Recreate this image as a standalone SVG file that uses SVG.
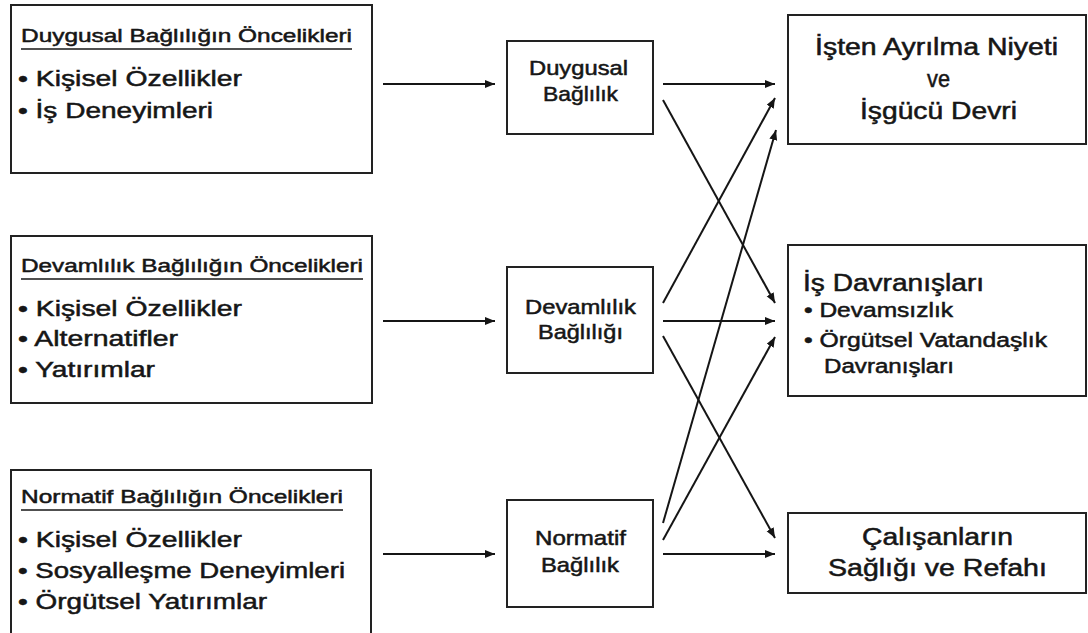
<svg xmlns="http://www.w3.org/2000/svg" width="1088" height="633" viewBox="0 0 1088 633">
  <style>
    .box { fill: #ffffff; stroke: #222222; stroke-width: 2; }
    .t { font-family: "Liberation Sans", Arial, sans-serif; fill: #161616; stroke: #161616; stroke-width: 0.5; }
    .head { font-size: 18.5px; }
    .item { font-size: 22px; }
    .mid { font-size: 20px; }
    .out { font-size: 23px; }
    .sub { font-size: 20px; }
    .ul { stroke: #161616; stroke-width: 1.5; }
    .conn line { stroke: #151515; stroke-width: 2; marker-end: url(#arrow); }
  </style>
  <defs>
    <marker id="arrow" markerUnits="userSpaceOnUse" markerWidth="11" markerHeight="9" refX="10" refY="4" orient="auto">
      <path d="M0,0 L10,4 L0,8 Z" fill="#151515"/>
    </marker>
  </defs>
  <rect width="1088" height="633" fill="#ffffff"/>

  <!-- antecedent boxes (wide type: each line scaled horizontally) -->
  <g id="antecedents-affective">
    <rect class="box" x="11" y="5" width="361" height="168"/>
    <text class="t head" transform="translate(21,42) scale(1.33,1)" textLength="248.9" lengthAdjust="spacingAndGlyphs">Duygusal Bağlılığın Öncelikleri</text>
    <line class="ul" x1="21" y1="49" x2="352" y2="49"/>
    <text class="t item" transform="translate(18,86) scale(1.29,1)" textLength="173.6" lengthAdjust="spacingAndGlyphs">• Kişisel Özellikler</text>
    <text class="t item" transform="translate(18,118) scale(1.29,1)" textLength="151.2" lengthAdjust="spacingAndGlyphs">• İş Deneyimleri</text>
  </g>

  <g id="antecedents-continuance">
    <rect class="box" x="11" y="236" width="361" height="167"/>
    <text class="t head" transform="translate(21,272) scale(1.33,1)" textLength="257.1" lengthAdjust="spacingAndGlyphs">Devamlılık Bağlılığın Öncelikleri</text>
    <line class="ul" x1="21" y1="279" x2="363" y2="279"/>
    <text class="t item" transform="translate(18,316) scale(1.29,1)" textLength="173.6" lengthAdjust="spacingAndGlyphs">• Kişisel Özellikler</text>
    <text class="t item" transform="translate(18,346) scale(1.29,1)" textLength="124" lengthAdjust="spacingAndGlyphs">• Alternatifler</text>
    <text class="t item" transform="translate(18,377) scale(1.29,1)" textLength="106.2" lengthAdjust="spacingAndGlyphs">• Yatırımlar</text>
  </g>

  <g id="antecedents-normative">
    <rect class="box" x="11" y="470" width="360" height="175"/>
    <text class="t head" transform="translate(21,503) scale(1.33,1)" textLength="242.1" lengthAdjust="spacingAndGlyphs">Normatif Bağlılığın Öncelikleri</text>
    <line class="ul" x1="21" y1="510" x2="343" y2="510"/>
    <text class="t item" transform="translate(18,547) scale(1.29,1)" textLength="173.6" lengthAdjust="spacingAndGlyphs">• Kişisel Özellikler</text>
    <text class="t item" transform="translate(18,578) scale(1.29,1)" textLength="253.5" lengthAdjust="spacingAndGlyphs">• Sosyalleşme Deneyimleri</text>
    <text class="t item" transform="translate(18,609) scale(1.29,1)" textLength="193" lengthAdjust="spacingAndGlyphs">• Örgütsel Yatırımlar</text>
  </g>

  <!-- commitment boxes -->
  <g id="affective">
    <rect class="box" x="507" y="41" width="146" height="93"/>
    <text class="t mid" transform="translate(529,75) scale(1.2,1)" textLength="82.5" lengthAdjust="spacingAndGlyphs">Duygusal</text>
    <text class="t mid" transform="translate(543,101) scale(1.2,1)" textLength="62.5" lengthAdjust="spacingAndGlyphs">Bağlılık</text>
  </g>

  <g id="continuance">
    <rect class="box" x="507" y="267" width="146" height="106"/>
    <text class="t mid" transform="translate(525,314) scale(1.2,1)" textLength="92.5" lengthAdjust="spacingAndGlyphs">Devamlılık</text>
    <text class="t mid" transform="translate(538,339) scale(1.2,1)" textLength="70.8" lengthAdjust="spacingAndGlyphs">Bağlılığı</text>
  </g>

  <g id="normative">
    <rect class="box" x="507" y="500" width="146" height="107"/>
    <text class="t mid" transform="translate(535,545) scale(1.2,1)" textLength="75.8" lengthAdjust="spacingAndGlyphs">Normatif</text>
    <text class="t mid" transform="translate(541,572) scale(1.2,1)" textLength="65" lengthAdjust="spacingAndGlyphs">Bağlılık</text>
  </g>

  <!-- outcome boxes -->
  <g id="turnover">
    <rect class="box" x="788" y="15" width="298" height="129"/>
    <text class="t out" transform="translate(815,55) scale(1.23,1)" textLength="197.6" lengthAdjust="spacingAndGlyphs">İşten Ayrılma Niyeti</text>
    <text class="t out" transform="translate(927,87) scale(1.23,1)" textLength="18.7" lengthAdjust="spacingAndGlyphs">ve</text>
    <text class="t out" transform="translate(860,119) scale(1.23,1)" textLength="127.6" lengthAdjust="spacingAndGlyphs">İşgücü Devri</text>
  </g>

  <g id="behaviour">
    <rect class="box" x="788" y="245" width="298" height="151"/>
    <text class="t out" transform="translate(803,291) scale(1.23,1)" textLength="147.2" lengthAdjust="spacingAndGlyphs">İş Davranışları</text>
    <text class="t sub" transform="translate(804,317) scale(1.25,1)" textLength="119.2" lengthAdjust="spacingAndGlyphs">• Devamsızlık</text>
    <text class="t sub" transform="translate(804,347) scale(1.25,1)" textLength="194.4" lengthAdjust="spacingAndGlyphs">• Örgütsel Vatandaşlık</text>
    <text class="t sub" transform="translate(824,373) scale(1.25,1)" textLength="104" lengthAdjust="spacingAndGlyphs">Davranışları</text>
  </g>

  <g id="wellbeing">
    <rect class="box" x="788" y="513" width="298" height="80"/>
    <text class="t out" transform="translate(862,545) scale(1.23,1)" textLength="122.8" lengthAdjust="spacingAndGlyphs">Çalışanların</text>
    <text class="t out" transform="translate(828,576) scale(1.23,1)" textLength="178" lengthAdjust="spacingAndGlyphs">Sağlığı ve Refahı</text>
  </g>

  <!-- connectors -->
  <g id="connectors" class="conn">
    <line x1="383" y1="84" x2="495" y2="84"/>
    <line x1="383" y1="321" x2="495" y2="321"/>
    <line x1="383" y1="554" x2="495" y2="554"/>
    <line x1="663" y1="84" x2="775" y2="84"/>
    <line x1="663" y1="100" x2="775" y2="303"/>
    <line x1="663" y1="303" x2="775" y2="98"/>
    <line x1="663" y1="321" x2="775" y2="321"/>
    <line x1="663" y1="336" x2="775" y2="538"/>
    <line x1="663" y1="523" x2="776" y2="130"/>
    <line x1="663" y1="540" x2="775" y2="337"/>
    <line x1="663" y1="554" x2="775" y2="554"/>
  </g>
</svg>
